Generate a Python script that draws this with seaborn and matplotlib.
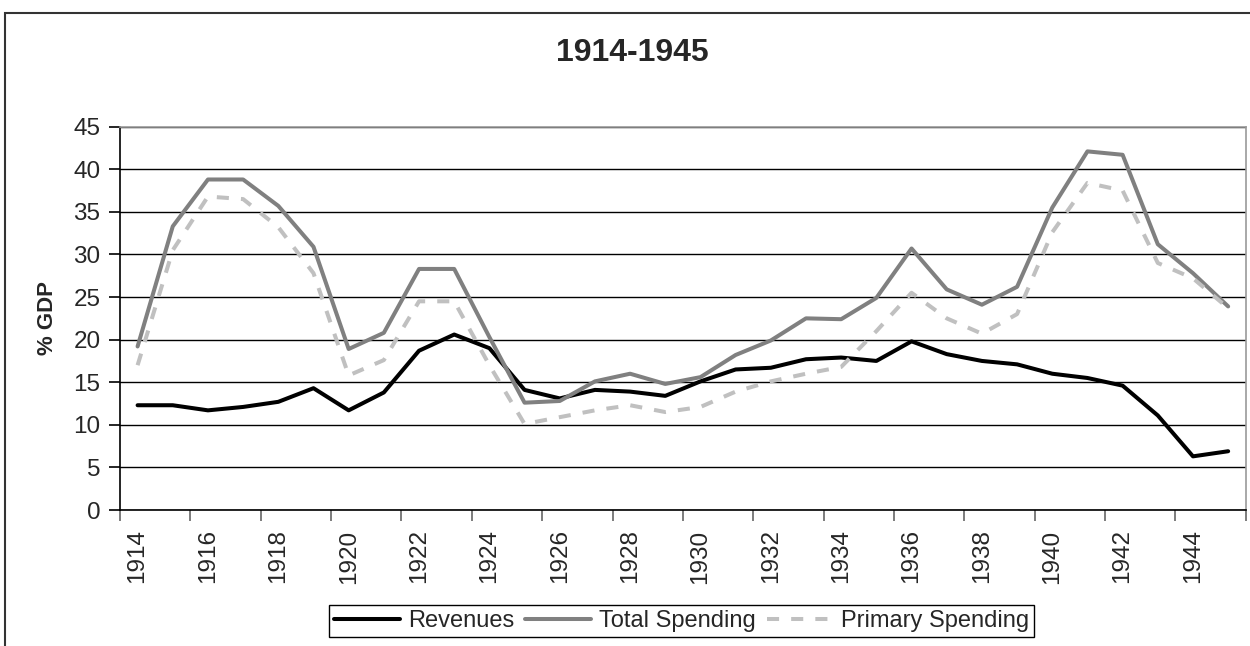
import pandas as pd
import matplotlib.pyplot as plt
import seaborn as sns
from matplotlib.patches import Rectangle
from matplotlib.ticker import FixedLocator, NullFormatter

years = list(range(1914, 1946))

revenues = [12.3, 12.3, 11.7, 12.1, 12.7, 14.3, 11.7, 13.8, 18.7, 20.6,
            19.0, 14.1, 13.1, 14.1, 13.9, 13.4, 15.1, 16.5, 16.7, 17.7,
            17.9, 17.5, 19.8, 18.3, 17.5, 17.1, 16.0, 15.5, 14.6, 11.1,
            6.3, 6.9]
total_spending = [19.2, 33.3, 38.8, 38.8, 35.7, 30.9, 18.9, 20.8, 28.3, 28.3,
                  20.3, 12.6, 12.8, 15.1, 16.0, 14.8, 15.6, 18.2, 19.9, 22.5,
                  22.4, 24.9, 30.7, 25.9, 24.1, 26.2, 35.5, 42.1, 41.7, 31.2,
                  27.8, 23.9]
primary_spending = [17.0, 30.5, 36.8, 36.5, 33.2, 27.8, 15.8, 17.6, 24.5, 24.5,
                    17.0, 10.1, 10.9, 11.7, 12.3, 11.5, 12.1, 13.9, 15.1, 16.0,
                    16.8, 21.0, 25.5, 22.5, 20.7, 23.0, 32.6, 38.4, 37.5, 29.0,
                    27.2, 23.7]

series_names = ['Revenues', 'Total Spending', 'Primary Spending']
series_colors = ['#000000', '#808080', '#c0c0c0']


def plot_fiscal_chart():
    df = pd.DataFrame({
        'pos': range(len(years)),
        'Revenues': revenues,
        'Total Spending': total_spending,
        'Primary Spending': primary_spending,
    })

    sns.set_theme(style="white")
    plt.rcParams['font.family'] = ['Liberation Sans', 'DejaVu Sans']

    fig = plt.figure(figsize=(12.5, 6.46), dpi=100)
    ax = fig.add_axes([0.096, 0.2105, 0.9006, 0.5934])

    styles = ['-', '-', (0, (3, 3))]
    for name, color, ls in zip(series_names, series_colors, styles):
        sns.lineplot(x='pos', y=name, data=df, color=color, linewidth=2.9,
                     linestyle=ls, label=name, ax=ax, legend=False)

    ax.set_xlim(-0.5, len(years) - 0.5)
    ax.set_ylim(0, 45)
    ax.set_yticks(range(0, 50, 5))
    ax.yaxis.grid(True, color='#000000', linewidth=1.0)
    ax.set_axisbelow(True)

    # category labels every second year, tick marks on category borders
    ax.set_xticks(range(0, len(years), 2))
    ax.set_xticklabels([str(y) for y in years[::2]], rotation=90)
    ax.xaxis.set_minor_locator(FixedLocator([-0.5 + 2 * k for k in range(17)]))
    ax.xaxis.set_minor_formatter(NullFormatter())
    ax.tick_params(axis='x', which='major', length=0, pad=14, labelsize=17.5)
    ax.tick_params(axis='x', which='minor', length=8, width=1.2, color='#666666', bottom=True)
    ax.tick_params(axis='y', length=8, width=1.2, pad=6, labelsize=17.5, left=True, color='#000000')

    for side in ['left', 'bottom']:
        ax.spines[side].set_color('#000000')
        ax.spines[side].set_linewidth(1.2)
    for side in ['top', 'right']:
        ax.spines[side].set_color('#999999')
        ax.spines[side].set_linewidth(1.2)

    ax.set_xlabel('')
    ax.set_ylabel('% GDP', fontsize=16, fontweight='bold', labelpad=11)
    fig.text(0.506, 0.918, '1914-1945', ha='center', va='center',
             fontsize=23, fontweight='bold')

    handles, labels = ax.get_legend_handles_labels()
    leg = fig.legend(handles, labels, loc='center', bbox_to_anchor=(0.545, 0.039),
                     ncol=3, fontsize=17, frameon=True, fancybox=False,
                     edgecolor='#000000', framealpha=1, handlelength=2.8,
                     handletextpad=0.35, columnspacing=0.45, borderpad=0.2,
                     borderaxespad=0)
    leg.get_frame().set_linewidth(1.0)

    # outer chart frame (runs off the bottom and right of the picture)
    fig.patches.append(Rectangle((0.004, -0.1), 1.1, 1.08, transform=fig.transFigure,
                                 fill=False, edgecolor='#333333', linewidth=1.5))

    fig.savefig('out.png', dpi=100)
    plt.close(fig)


if __name__ == "__main__":
    plot_fiscal_chart()
